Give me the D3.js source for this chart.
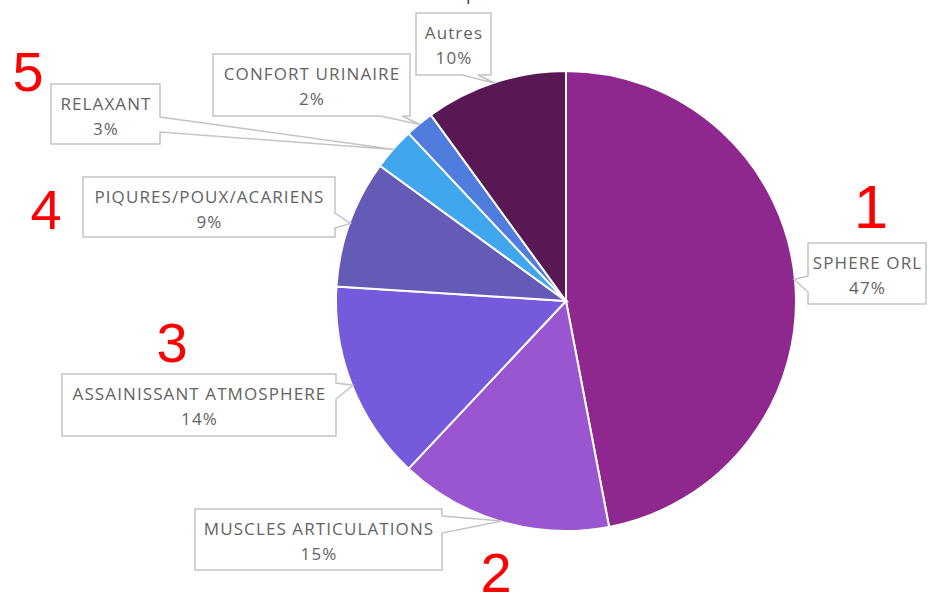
<!DOCTYPE html>
<html>
<head>
<meta charset="utf-8">
<script src="https://cdn.jsdelivr.net/npm/d3@7"></script>
<style>
  body { margin: 0; background: #fff; }
</style>
</head>
<body>
<div id="main"></div>
<script>
const ctx = { w: 929, h: 595, cx: 566, cy: 301, r: 230 };

// data (clockwise from 12 o'clock)
const categories = ['SPHERE ORL', 'MUSCLES ARTICULATIONS', 'ASSAINISSANT ATMOSPHERE',
    'PIQURES/POUX/ACARIENS', 'RELAXANT', 'CONFORT URINAIRE', 'Autres'];
const values = [47, 15, 14, 9, 3, 2, 10];
const sliceColors = ['#8e288e', '#9a55d0', '#755bdb', '#645bb6', '#40a6ee', '#4f7cdd', '#581853'];
const rankLabels = ['1', '2', '3', '4', '5'];

// label boxes (layout only)
const boxes = {
    'SPHERE ORL':              { x: 808, y: 243, w: 118, h: 61, side: 'left',   a0: 276, a1: 292 },
    'MUSCLES ARTICULATIONS':   { x: 195, y: 509, w: 247, h: 61, side: 'right',  a0: 516, a1: 533 },
    'ASSAINISSANT ATMOSPHERE': { x: 62,  y: 374, w: 274, h: 62, side: 'right',  a0: 383, a1: 399 },
    'PIQURES/POUX/ACARIENS':   { x: 83,  y: 177, w: 252, h: 60, side: 'right',  a0: 213, a1: 228 },
    'RELAXANT':                { x: 51,  y: 84,  w: 109, h: 60, side: 'right',  a0: 117, a1: 132 },
    'CONFORT URINAIRE':        { x: 213, y: 54,  w: 197, h: 62, side: 'bottom', a0: 380, a1: 402 },
    'Autres':                  { x: 416, y: 13,  w: 75,  h: 62, side: 'bottom', a0: 462, a1: 478 }
};
const rankPos = [[871, 228, 62], [496, 592, 56], [172, 362, 56], [46, 229, 56], [28, 91, 56]];

function calloutPath(b, tip) {
    const x0 = b.x, y0 = b.y, x1 = b.x + b.w, y1 = b.y + b.h;
    const p = [[x0, y0]];
    if (b.side === 'top') p.push([b.a0, y0], tip, [b.a1, y0]);
    p.push([x1, y0]);
    if (b.side === 'right') p.push([x1, b.a0], tip, [x1, b.a1]);
    p.push([x1, y1]);
    if (b.side === 'bottom') p.push([b.a1, y1], tip, [b.a0, y1]);
    p.push([x0, y1]);
    if (b.side === 'left') p.push([x0, b.a1], tip, [x0, b.a0]);
    return 'M' + p.map(d => d.join(',')).join('L') + 'Z';
}

function createViz() {
    const svg = d3.select('#main').append('svg')
        .attr('width', ctx.w)
        .attr('height', ctx.h)
        .style('display', 'block');
    svg.append('rect').attr('width', ctx.w).attr('height', ctx.h).attr('fill', '#fff');

    // bit of the cut-off title at the very top
    svg.append('text')
        .attr('x', 466).attr('y', 0)
        .style('font-family', 'Open Sans').style('font-size', '18px')
        .attr('fill', '#404040')
        .text('p');

    const data = categories.map((c, i) => ({ cat: c, value: values[i], color: sliceColors[i] }));
    const pie = d3.pie().sort(null).value(d => d.value);
    const arcs = pie(data);
    const arc = d3.arc().innerRadius(0).outerRadius(ctx.r);
    const edge = d3.arc().innerRadius(ctx.r - 1).outerRadius(ctx.r - 1);

    const g = svg.append('g').attr('transform', `translate(${ctx.cx},${ctx.cy})`);
    g.selectAll('path.slice')
        .data(arcs)
        .enter().append('path')
        .attr('class', 'slice')
        .attr('d', arc)
        .attr('fill', d => d.data.color)
        .attr('stroke', '#fff')
        .attr('stroke-width', 2);

    // callouts
    const lab = svg.append('g');
    arcs.forEach(d => {
        const b = boxes[d.data.cat];
        const c = edge.centroid(d);
        const tip = [ctx.cx + c[0], ctx.cy + c[1]];
        lab.append('path')
            .attr('d', calloutPath(b, tip))
            .attr('fill', '#fff')
            .attr('stroke', '#c4c4c4')
            .attr('stroke-width', 1.5)
            .attr('stroke-linejoin', 'miter');
        const t = lab.append('text')
            .attr('text-anchor', 'middle')
            .style('font-family', 'Open Sans')
            .style('font-size', '17px')
            .style('letter-spacing', '1.1px')
            .attr('fill', '#636363');
        t.append('tspan').attr('x', b.x + b.w / 2 + 0.5).attr('y', b.y + 26).text(d.data.cat);
        t.append('tspan').attr('x', b.x + b.w / 2 + 0.5).attr('y', b.y + 51).text(d.data.value + '%');
    });

    // red rank numbers
    svg.selectAll('text.rank')
        .data(rankLabels)
        .enter().append('text')
        .attr('class', 'rank')
        .attr('x', (d, i) => rankPos[i][0])
        .attr('y', (d, i) => rankPos[i][1])
        .attr('text-anchor', 'middle')
        .style('font-family', 'Liberation Sans, Arial')
        .style('font-size', (d, i) => rankPos[i][2] + 'px')
        .attr('fill', '#ff0000')
        .text(d => d);
}

createViz();
</script>
</body>
</html>
